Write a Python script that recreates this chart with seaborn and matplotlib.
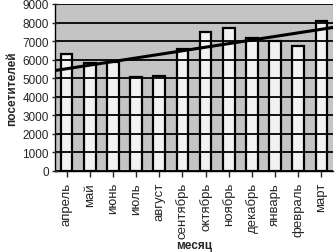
import matplotlib
matplotlib.use("Agg")
import matplotlib.pyplot as plt
import numpy as np
import pandas as pd
import seaborn as sns

months = ["апрель", "май", "июнь", "июль", "август", "сентябрь",
          "октябрь", "ноябрь", "декабрь", "январь", "февраль", "март"]
visitors = [6300, 5800, 5900, 5050, 5100, 6550, 7500, 7700, 7150, 7000, 6750, 8100]

df = pd.DataFrame({"month": months, "visitors": visitors, "idx": np.arange(len(months))})

sns.set_style("white")
plt.rcParams["font.family"] = ["Liberation Sans", "DejaVu Sans"]

fig = plt.figure(figsize=(3.36, 2.53), dpi=100)
ax = fig.add_axes([55 / 336, 1 - 172 / 253, 278 / 336, 167 / 253])
ax.set_facecolor("#c4c4c4")

sns.barplot(data=df, x="idx", y="visitors", color="#f2f2f2", width=0.5,
            edgecolor="black", linewidth=1.6, saturation=1, ax=ax)
sns.regplot(data=df, x="idx", y="visitors", scatter=False, ci=None, truncate=False,
            color="black", line_kws={"linewidth": 2.2}, ax=ax)

ax.set_ylim(0, 9000)
ax.set_xlim(-0.5, len(months) - 0.5)
ax.set_yticks(range(0, 9001, 1000))
ax.set_xticks(range(len(months)))
ax.set_xticklabels(months, rotation=90)
ax.yaxis.grid(True, color="black", linewidth=1.3)
ax.set_axisbelow(False)
ax.tick_params(axis="y", direction="inout", length=5, width=1, labelsize=8.5, pad=2, left=True)
ax.tick_params(axis="x", direction="out", length=4, width=1, labelsize=9.5, pad=4, bottom=True)
for s in ["top", "right"]:
    ax.spines[s].set_visible(False)
ax.spines["left"].set_color("black")
ax.spines["bottom"].set_color("black")
ax.spines["left"].set_linewidth(1)
ax.spines["bottom"].set_linewidth(1)

ax.set_ylabel("посетителей", fontsize=8.5, fontweight="bold", labelpad=3)
ax.set_xlabel("месяц", fontsize=8.5, fontweight="bold")
ax.xaxis.set_label_coords(0.5, -0.405)

fig.savefig("out.png", dpi=100)
